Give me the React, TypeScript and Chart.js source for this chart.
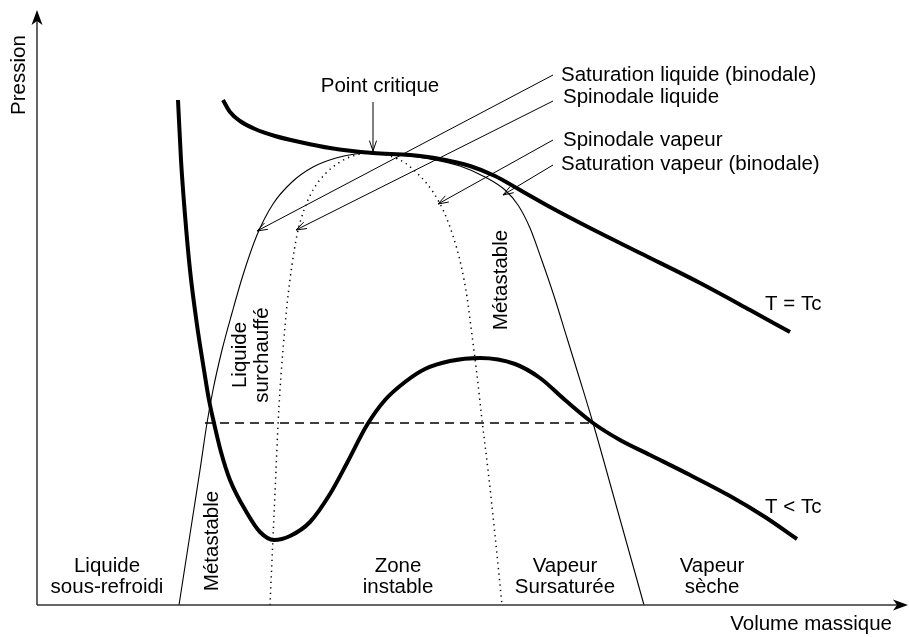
import { useEffect, useRef } from "react";
import { Chart, registerables } from "chart.js";

Chart.register(...registerables);

// Data units: specific volume (V) and pressure (P), origin at the axes corner.
// Isotherm T = Tc
const tcV = [186, 193, 203, 218, 238, 263, 293, 336, 373, 403, 433, 458, 483, 513, 553, 603, 663, 713, 753];
const tcP = [505, 493, 484, 476, 469, 463, 457, 452, 450, 446, 439, 429, 415, 398, 377, 352, 322, 295, 273];

// Isotherm T < Tc
const subV = [141, 144, 148, 153, 160, 167, 172, 177, 184, 193, 210, 223, 237, 253, 273, 293, 310, 330, 348, 368, 388, 413, 443, 478, 503, 528, 556, 583, 613, 653, 693, 728, 760];
const subP = [505, 445, 390, 335, 280, 235, 205, 182, 153, 125, 92, 73, 65, 69, 83, 111, 142, 180, 205, 223, 236, 244, 247, 241, 227, 205, 182, 165, 150, 130, 109, 88, 66];

// Binodal (saturation curve)
const binV = [142, 149, 156, 163, 170, 176, 185, 195, 206, 220, 236, 255, 276, 299, 318, 336, 363, 393, 423, 448, 468, 481, 493, 504, 517, 530, 543, 556, 581, 607];
const binP = [0, 45, 90, 135, 182, 215, 255, 292, 330, 370, 401, 423, 438, 447, 451, 452, 450, 446, 439, 428, 415, 400, 377, 347, 309, 267, 225, 182, 93, 0];

// Spinodal
const spinV = [233, 235, 237, 239, 241, 243, 246, 250, 255, 260, 267, 276, 288, 303, 319, 336, 353, 368, 383, 396, 407, 416, 424, 430, 435, 440, 445, 451, 458, 465];
const spinP = [0, 45, 90, 135, 180, 215, 255, 300, 340, 370, 395, 415, 431, 443, 450, 452, 449, 442, 429, 413, 393, 369, 340, 308, 270, 230, 185, 135, 70, 0];

// Saturation pressure plateau (T < Tc)
const plateauV = [168, 556];
const plateauP = [182, 182];

// Critical point
const criticalV = 336;
const criticalP = 452;

// Leader lines: [fromV, fromP, toV, toP]
const leaders = [
  [516, 530, 220, 374],
  [516, 504, 259, 375],
  [516, 465, 401, 401],
  [516, 440, 466, 410],
  [336, 503, 336, 454],
];

const labels = [
  { text: "Saturation liquide (binodale)", v: 524, p: 524, align: "left", rot: false },
  { text: "Spinodale liquide", v: 526, p: 502, align: "left", rot: false },
  { text: "Spinodale vapeur", v: 526, p: 459, align: "left", rot: false },
  { text: "Saturation vapeur (binodale)", v: 524, p: 435, align: "left", rot: false },
  { text: "Point critique", v: 343, p: 513, align: "center", rot: false },
  { text: "T = Tc", v: 728, p: 295, align: "left", rot: false },
  { text: "T < Tc", v: 728, p: 92, align: "left", rot: false },
  { text: "Volume massique", v: 855, p: -25, align: "right", rot: false },
  { text: "Liquide", v: 70, p: 33, align: "center", rot: false },
  { text: "sous-refroidi", v: 70, p: 12, align: "center", rot: false },
  { text: "Zone", v: 361, p: 33, align: "center", rot: false },
  { text: "instable", v: 361, p: 12, align: "center", rot: false },
  { text: "Vapeur", v: 528, p: 33, align: "center", rot: false },
  { text: "Sursaturée", v: 528, p: 12, align: "center", rot: false },
  { text: "Vapeur", v: 675, p: 33, align: "center", rot: false },
  { text: "sèche", v: 675, p: 12, align: "center", rot: false },
  { text: "Pression", v: -12, p: 530, align: "center", rot: true },
  { text: "Métastable", v: 181, p: 64, align: "center", rot: true },
  { text: "Liquide", v: 209, p: 250, align: "center", rot: true },
  { text: "surchauffé", v: 231, p: 250, align: "center", rot: true },
  { text: "Métastable", v: 470, p: 325, align: "center", rot: true },
];

const xMin = -37;
const xMax = 872;
const yMin = -32;
const yMax = 605;
const axisEndV = 871;
const axisEndP = 595;

const FONT = '20.5px "Liberation Sans", Arial, Helvetica, sans-serif';

const pts = (vs: number[], ps: number[]) => vs.map((v, i) => ({ x: v, y: ps[i] }));

function filledArrow(ctx: CanvasRenderingContext2D, tx: number, ty: number, ang: number) {
  const L = 15, W = 5.5, N = 11;
  const dx = Math.cos(ang), dy = Math.sin(ang);
  const nx = -dy, ny = dx;
  ctx.beginPath();
  ctx.moveTo(tx, ty);
  ctx.lineTo(tx - L * dx + W * nx, ty - L * dy + W * ny);
  ctx.lineTo(tx - N * dx, ty - N * dy);
  ctx.lineTo(tx - L * dx - W * nx, ty - L * dy - W * ny);
  ctx.closePath();
  ctx.fill();
}

function openArrow(ctx: CanvasRenderingContext2D, fx: number, fy: number, tx: number, ty: number) {
  const ang = Math.atan2(ty - fy, tx - fx);
  const L = 11, a = 0.33;
  ctx.beginPath();
  ctx.moveTo(fx, fy);
  ctx.lineTo(tx, ty);
  ctx.moveTo(tx - L * Math.cos(ang - a), ty - L * Math.sin(ang - a));
  ctx.lineTo(tx, ty);
  ctx.lineTo(tx - L * Math.cos(ang + a), ty - L * Math.sin(ang + a));
  ctx.stroke();
}

const overlay = {
  id: "overlay",
  afterDatasetsDraw(chart: any) {
    const ctx: CanvasRenderingContext2D = chart.ctx;
    const xs = chart.scales.x;
    const ys = chart.scales.y;
    const px = (v: number) => xs.getPixelForValue(v);
    const py = (p: number) => ys.getPixelForValue(p);
    ctx.save();
    // axes
    ctx.strokeStyle = "#333";
    ctx.fillStyle = "#000";
    ctx.lineWidth = 1.5;
    ctx.beginPath();
    ctx.moveTo(px(0), py(0));
    ctx.lineTo(px(0), py(axisEndP) + 8);
    ctx.moveTo(px(0), py(0));
    ctx.lineTo(px(axisEndV) - 8, py(0));
    ctx.stroke();
    filledArrow(ctx, px(0), py(axisEndP), -Math.PI / 2);
    filledArrow(ctx, px(axisEndV), py(0), 0);

    // leaders
    ctx.strokeStyle = "#000";
    ctx.lineWidth = 1;
    for (const [fv, fp, tv, tp] of leaders) {
      openArrow(ctx, px(fv), py(fp), px(tv), py(tp));
    }

    // texts
    ctx.fillStyle = "#000";
    ctx.font = FONT;
    ctx.textBaseline = "alphabetic";
    for (const l of labels) {
      ctx.save();
      ctx.translate(px(l.v), py(l.p));
      if (l.rot) ctx.rotate(-Math.PI / 2);
      ctx.textAlign = l.align as CanvasTextAlign;
      ctx.fillText(l.text, 0, 0);
      ctx.restore();
    }
    ctx.restore();
  },
};

export default function App() {
  const ref = useRef<HTMLCanvasElement | null>(null);
  useEffect(() => {
    if (!ref.current) return;
    const base = {
      pointRadius: 0,
      fill: false,
      borderColor: "#000",
      clip: false as any,
      cubicInterpolationMode: "monotone",
    };
    const chart = new Chart(ref.current, {
      type: "line",
      data: {
        datasets: [
          { ...base, label: "T = Tc", data: pts(tcV, tcP), borderWidth: 4 },
          { ...base, label: "T < Tc", data: pts(subV, subP), borderWidth: 4 },
          { ...base, label: "Binodale", data: pts(binV, binP), borderWidth: 1.1 },
          { ...base, label: "Spinodale", data: pts(spinV, spinP), borderWidth: 1.5, borderDash: [1.3, 4.2] },
          { ...base, label: "Palier", data: pts(plateauV, plateauP), borderWidth: 1.6, borderDash: [9, 6], cubicInterpolationMode: "default", tension: 0 },
          { ...base, label: "Point critique", data: [{ x: criticalV, y: criticalP }], borderWidth: 0, showLine: false },
        ] as any,
      },
      options: {
        animation: false,
        responsive: true,
        maintainAspectRatio: false,
        layout: { padding: 0 },
        events: [],
        scales: {
          x: { type: "linear", min: xMin, max: xMax, display: false },
          y: { type: "linear", min: yMin, max: yMax, display: false },
        },
        plugins: { legend: { display: false }, tooltip: { enabled: false }, title: { display: false } },
      },
      plugins: [overlay],
    });
    return () => chart.destroy();
  }, []);
  return (
    <div style={{ position: "fixed", left: 0, top: 0, width: 909, height: 637, background: "#fff" }}>
      <canvas ref={ref} />
    </div>
  );
}
